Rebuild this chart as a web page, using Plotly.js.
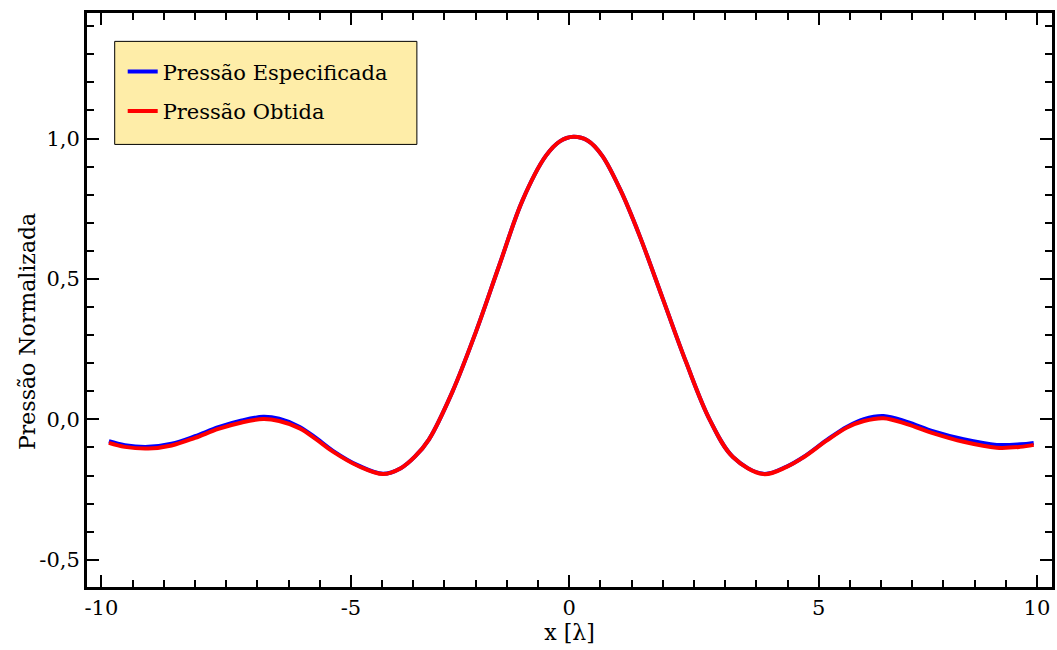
<!DOCTYPE html>
<html>
<head>
<meta charset="utf-8">
<script src="https://cdn.plot.ly/plotly-3.0.1.min.js"></script>
<style>
  html, body { margin: 0; padding: 0; background: #ffffff; }
  #chart { width: 1057px; height: 650px; }
</style>
</head>
<body>
<div id="chart"></div>
<script>
// Normalised pressure profile along x (in wavelengths)
const xPos = [-9.84, -9.5, -9.0, -8.5, -8.0, -7.5, -7.0, -6.54, -6.2, -5.76, -5.4, -5.05, -4.5,
  -3.98, -3.6, -3.3, -3.0, -2.5, -2.0, -1.5, -1.0, -0.5, -0.2, 0.09, 0.4, 0.7, 1.1, 1.5,
  2.0, 2.5, 3.0, 3.5, 4.15, 4.65, 5.01, 5.51, 5.94, 6.3, 6.72, 7.22, 7.79, 8.43,
  9.14, 9.64, 9.93];

// specified pressure
const pSpecified = [-0.078, -0.092, -0.098, -0.087, -0.060, -0.028, -0.004, 0.009, 0.002, -0.027, -0.068, -0.112, -0.165,
  -0.194, -0.174, -0.133, -0.072, 0.097, 0.309, 0.546, 0.779, 0.938, 0.990, 1.006, 0.992, 0.940, 0.815, 0.656,
  0.430, 0.203, 0.000, -0.134, -0.194, -0.168, -0.134, -0.073, -0.026, 0.001, 0.012, -0.009, -0.043, -0.071,
  -0.091, -0.089, -0.084];

// obtained pressure
const pObtained = [-0.084, -0.098, -0.104, -0.093, -0.066, -0.034, -0.011, 0.001, -0.006, -0.032, -0.072, -0.115, -0.167,
  -0.195, -0.174, -0.133, -0.072, 0.097, 0.309, 0.546, 0.779, 0.938, 0.990, 1.006, 0.992, 0.940, 0.815, 0.656,
  0.430, 0.203, 0.000, -0.134, -0.195, -0.169, -0.135, -0.075, -0.029, -0.006, 0.004, -0.017, -0.050, -0.080,
  -0.101, -0.098, -0.091];

const seriesNames = ['Pressão Especificada', 'Pressão Obtida'];

// axis tick labels
const xTickVals = [-10, -14 / 3, 0, 16 / 3, 10];
const xTickText = ['-10', '-5', '0', '5', '10'];
const yTickVals = [-0.5, 0, 0.5, 1.0];
const yTickText = ['-0,5', '0,0', '0,5', '1,0'];

const FONT = '"DejaVu Serif", "Liberation Serif", serif';

const traces = [
  {
    x: xPos, y: pSpecified, name: seriesNames[0], type: 'scatter', mode: 'lines',
    line: { color: '#0000ff', width: 4, shape: 'spline', smoothing: 1 },
    legendgroup: 'a'
  },
  {
    x: xPos, y: pObtained, name: seriesNames[1], type: 'scatter', mode: 'lines',
    line: { color: '#ff0000', width: 4, shape: 'spline', smoothing: 1 },
    legendgroup: 'b'
  }
];

const axisCommon = {
  showline: true, linecolor: '#000000', linewidth: 3, mirror: 'allticks',
  ticks: 'inside', ticklen: 12, tickwidth: 2, tickcolor: '#000000',
  showgrid: false, zeroline: false,
  tickfont: { family: FONT, size: 21, color: '#000000' }
};

const layout = {
  width: 1057, height: 650,
  margin: { l: 87, r: 5, t: 13, b: 63 },
  paper_bgcolor: '#ffffff', plot_bgcolor: '#ffffff',
  font: { family: FONT, size: 21, color: '#000000' },
  xaxis: Object.assign({}, axisCommon, {
    range: [-10.308, 10.321],
    tickmode: 'array', tickvals: xTickVals, ticktext: xTickText,
    minor: { tick0: 0, dtick: 2 / 3, ticks: 'inside', ticklen: 7, tickwidth: 2, tickcolor: '#000000' },
    title: { text: 'x [λ]', font: { family: FONT, size: 22 }, standoff: 6 }
  }),
  yaxis: Object.assign({}, axisCommon, {
    range: [-0.597, 1.447],
    tickmode: 'array', tickvals: yTickVals, ticktext: yTickText,
    minor: { tick0: 0, dtick: 0.1, ticks: 'inside', ticklen: 7, tickwidth: 2, tickcolor: '#000000' },
    title: { text: '' }
  }),
  showlegend: true,
  legend: {
    x: 0.037, y: 0.933, xanchor: 'left', yanchor: 'top',
    bgcolor: 'rgba(0,0,0,0)', borderwidth: 0,
    traceorder: 'grouped', tracegroupgap: 9,
    font: { family: FONT, size: 21, color: '#000000' }
  },
  shapes: [
    {
      type: 'rect', xref: 'x', yref: 'y', layer: 'above',
      x0: -9.716, x1: -3.256, y0: 0.979, y1: 1.346,
      fillcolor: '#feeda8', line: { color: '#000000', width: 1 }
    }
  ],
  annotations: [
    {
      text: 'Pressão Normalizada', textangle: -90,
      xref: 'paper', yref: 'paper', x: 0, y: 0.5, xanchor: 'center', yanchor: 'middle',
      xshift: -60, yshift: -32, showarrow: false,
      font: { family: FONT, size: 22, color: '#000000' }
    }
  ]
};

Plotly.newPlot('chart', traces, layout, { displayModeBar: false, staticPlot: true });
</script>
</body>
</html>
